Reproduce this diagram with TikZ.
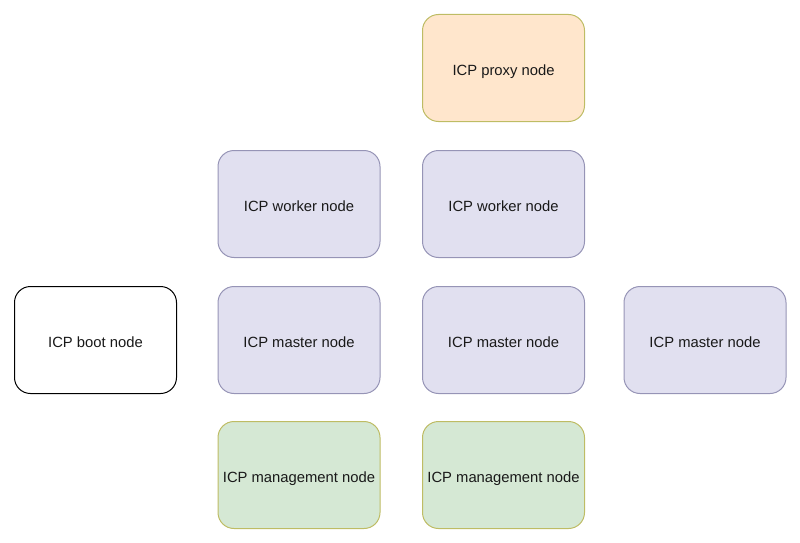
\documentclass[tikz,border=0pt]{standalone}
\usepackage{fontspec}
\setmainfont{Liberation Sans}
\definecolor{lavfill}{RGB}{225,224,240}
\definecolor{lavdraw}{RGB}{150,148,182}
\definecolor{orfill}{RGB}{255,230,204}
\definecolor{oldraw}{RGB}{190,188,100}
\definecolor{grfill}{RGB}{213,232,212}
\newcommand{\lowtxt}[1]{\raisebox{-7.3pt}[0pt][0pt]{#1}}
\begin{document}
\begin{tikzpicture}[x=1pt,y=-1pt,
  box/.style={rounded corners=16pt, line width=1pt, minimum width=162pt, minimum height=107pt, inner sep=0pt, font=\fontsize{14.8}{17}\selectfont, anchor=north west, text=black!90},
  lav/.style={box, fill=lavfill, draw=lavdraw},
  prox/.style={box, fill=orfill, draw=oldraw},
  mgmt/.style={box, fill=grfill, draw=oldraw},
  boot/.style={box, fill=white, draw=black}]
\useasboundingbox (0,0) rectangle (800,543);
\node[prox] (proxy) at (422,14) {\lowtxt{ICP proxy node}};
\node[lav] (w1) at (217.5,150) {\lowtxt{ICP worker node}};
\node[lav] (w2) at (422,150) {\lowtxt{ICP worker node}};
\node[boot] (boot) at (14,286) {\lowtxt{ICP boot node}};
\node[lav] (m1) at (217.5,286) {\lowtxt{ICP master node}};
\node[lav] (m2) at (422,286) {\lowtxt{ICP master node}};
\node[lav] (m3) at (623.5,286) {\lowtxt{ICP master node}};
\node[mgmt] (g1) at (217.5,421) {\lowtxt{ICP management node}};
\node[mgmt] (g2) at (422,421) {\lowtxt{ICP management node}};
\end{tikzpicture}
\end{document}
